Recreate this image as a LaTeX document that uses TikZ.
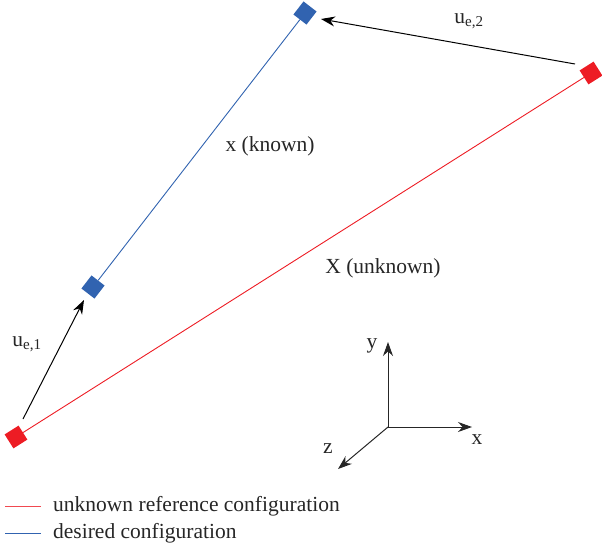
\documentclass[tikz,border=0pt]{standalone}
\usepackage{fontspec}
\setmainfont{Liberation Serif}
\usetikzlibrary{arrows.meta}
\definecolor{rred}{RGB}{237,28,36}
\definecolor{bblue}{RGB}{49,99,176}
\tikzset{
  sq/.style={draw=none,minimum size=16.5pt,inner sep=0pt,shape=rectangle},
  redsq/.style={sq,fill=rred},
  bluesq/.style={sq,fill=bblue},
  disp/.style={draw=black,line width=1pt,-{Stealth[length=14pt,width=10pt]}},
  axis/.style={draw=black!85,line width=1pt,-{Stealth[length=14pt,width=10pt]}},
  lbl/.style={font=\fontsize{21.5}{24}\selectfont,text=black!85,inner sep=0pt},
}
\begin{document}
\begin{tikzpicture}[x=1pt,y=-1pt]
\useasboundingbox (0,0) rectangle (602,550);
% squares
\node[redsq,rotate=32.3] (R1) at (16,437) {};
\node[redsq,rotate=32.3] (R2) at (591,73) {};
\node[bluesq,rotate=52.3] (B1) at (93,287) {};
\node[bluesq,rotate=52.3] (B2) at (305,13) {};
% lines
\draw[rred,line width=0.9pt] (R1) -- (R2);
\draw[bblue,line width=0.9pt] (B1) -- (B2);
% displacement arrows
\coordinate (a1s) at (23,419);
\coordinate (a1e) at (84,300);
\coordinate (a2s) at (575,64);
\coordinate (a2e) at (321,19);
\draw[disp] (a1s) -- (a1e);
\draw[disp] (a2s) -- (a2e);
\node[lbl] (u1) at (27,344) {u\textsubscript{e,1}};
\node[lbl] (u2) at (469,21) {u\textsubscript{e,2}};
\node[lbl] (xk) at (270,146) {x (known)};
\node[lbl] (Xu) at (383,268) {X (unknown)};
% axes
\coordinate (O) at (388,427);
\coordinate (Y) at (388,342);
\coordinate (X) at (472,427);
\coordinate (Z) at (338,469);
\draw[axis] (O) -- (Y);
\draw[axis] (O) -- (X);
\draw[axis] (O) -- (Z);
\node[lbl] (ly) at (372,346) {y};
\node[lbl] (lx) at (477,440) {x};
\node[lbl] (lz) at (328,449) {z};
% legend
\coordinate (L1a) at (5,506);
\coordinate (L1b) at (41,506);
\coordinate (L2a) at (5,533);
\coordinate (L2b) at (41,533);
\draw[rred!80,line width=0.9pt] (L1a) -- (L1b);
\draw[bblue,line width=0.9pt] (L2a) -- (L2b);
\node[lbl,anchor=west] (t1) at (53,506) {unknown reference configuration};
\node[lbl,anchor=west] (t2) at (53,533) {desired configuration};
\end{tikzpicture}
\end{document}
